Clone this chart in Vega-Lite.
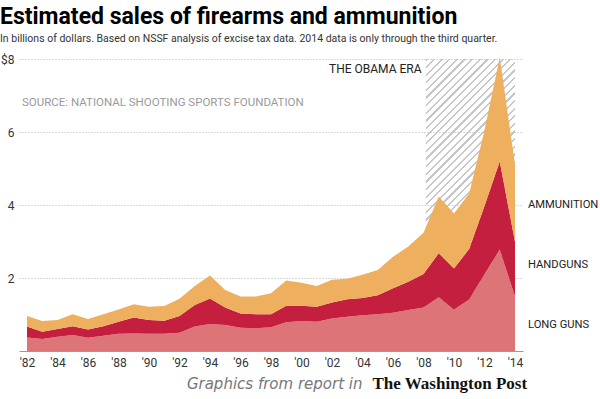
{
  "$schema": "https://vega.github.io/schema/vega-lite/v6.json",
  "width": 504,
  "height": 292,
  "autosize": {"type": "none"},
  "padding": {"left": 19, "top": 59, "right": 77, "bottom": 48},
  "background": "#ffffff",
  "title": {
    "text": "Estimated sales of firearms and ammunition",
    "subtitle": "In billions of dollars. Based on NSSF analysis of excise tax data. 2014 data is only through the third quarter.",
    "anchor": "start",
    "frame": "group",
    "dx": -19,
    "offset": 9,
    "font": "Roboto",
    "fontSize": 23,
    "fontWeight": "bold",
    "color": "#000000",
    "subtitleFont": "Roboto",
    "subtitleFontSize": 10.5,
    "subtitleColor": "#333333",
    "subtitlePadding": 5
  },
  "config": {
    "view": {"stroke": null},
    "axis": {"labelFont": "Roboto", "labelFontSize": 12, "labelColor": "#333333"}
  },
  "encoding": {
    "x": {"field": "year", "type": "quantitative", "title": null,
          "scale": {"domain": [1981.475, 2014.525], "nice": false, "zero": false},
          "axis": {"values": [1982,1984,1986,1988,1990,1992,1994,1996,1998,2000,2002,2004,2006,2008,2010,2012,2014],
                   "labelExpr": "\"'\" + substring(toString(datum.value), 2)",
                   "labelOverlap": false, "labelFlush": false, "labelSeparation": 0,
                   "grid": false, "ticks": false, "domainColor": "#9a9a9a", "labelPadding": 6}},
    "y": {"field": "value", "type": "quantitative", "title": null,
          "scale": {"domain": [0, 8], "nice": false},
          "axis": {"values": [2, 4, 6, 8],
                   "labelExpr": "datum.value == 8 ? '$8' : datum.label",
                   "domain": false, "ticks": false, "grid": true, "gridColor": "#b5b5b5", "gridDash": [1, 2],
                   "labelPadding": 5}}
  },
  "layer": [
    {
      "data": {"values": [{"year": 2008.15, "end": 2014, "value": 0, "hi": 8}]},
      "mark": {
        "type": "rect",
        "fill": {
          "gradient": "linear", "x1": 0, "y1": 0, "x2": 0.3648, "y2": 1.1941,
          "stops": [
{"offset":0,"color":"#c6c6c6"},{"offset":0.006,"color":"#c6c6c6"},{"offset":0.006,"color":"rgba(255,255,255,0)"},{"offset":0.02,"color":"rgba(255,255,255,0)"},
{"offset":0.02,"color":"#c6c6c6"},{"offset":0.026,"color":"#c6c6c6"},{"offset":0.026,"color":"rgba(255,255,255,0)"},{"offset":0.04,"color":"rgba(255,255,255,0)"},
{"offset":0.04,"color":"#c6c6c6"},{"offset":0.046,"color":"#c6c6c6"},{"offset":0.046,"color":"rgba(255,255,255,0)"},{"offset":0.06,"color":"rgba(255,255,255,0)"},
{"offset":0.06,"color":"#c6c6c6"},{"offset":0.066,"color":"#c6c6c6"},{"offset":0.066,"color":"rgba(255,255,255,0)"},{"offset":0.08,"color":"rgba(255,255,255,0)"},
{"offset":0.08,"color":"#c6c6c6"},{"offset":0.086,"color":"#c6c6c6"},{"offset":0.086,"color":"rgba(255,255,255,0)"},{"offset":0.1,"color":"rgba(255,255,255,0)"},
{"offset":0.1,"color":"#c6c6c6"},{"offset":0.106,"color":"#c6c6c6"},{"offset":0.106,"color":"rgba(255,255,255,0)"},{"offset":0.12,"color":"rgba(255,255,255,0)"},
{"offset":0.12,"color":"#c6c6c6"},{"offset":0.126,"color":"#c6c6c6"},{"offset":0.126,"color":"rgba(255,255,255,0)"},{"offset":0.14,"color":"rgba(255,255,255,0)"},
{"offset":0.14,"color":"#c6c6c6"},{"offset":0.146,"color":"#c6c6c6"},{"offset":0.146,"color":"rgba(255,255,255,0)"},{"offset":0.16,"color":"rgba(255,255,255,0)"},
{"offset":0.16,"color":"#c6c6c6"},{"offset":0.166,"color":"#c6c6c6"},{"offset":0.166,"color":"rgba(255,255,255,0)"},{"offset":0.18,"color":"rgba(255,255,255,0)"},
{"offset":0.18,"color":"#c6c6c6"},{"offset":0.186,"color":"#c6c6c6"},{"offset":0.186,"color":"rgba(255,255,255,0)"},{"offset":0.2,"color":"rgba(255,255,255,0)"},
{"offset":0.2,"color":"#c6c6c6"},{"offset":0.206,"color":"#c6c6c6"},{"offset":0.206,"color":"rgba(255,255,255,0)"},{"offset":0.22,"color":"rgba(255,255,255,0)"},
{"offset":0.22,"color":"#c6c6c6"},{"offset":0.226,"color":"#c6c6c6"},{"offset":0.226,"color":"rgba(255,255,255,0)"},{"offset":0.24,"color":"rgba(255,255,255,0)"},
{"offset":0.24,"color":"#c6c6c6"},{"offset":0.246,"color":"#c6c6c6"},{"offset":0.246,"color":"rgba(255,255,255,0)"},{"offset":0.26,"color":"rgba(255,255,255,0)"},
{"offset":0.26,"color":"#c6c6c6"},{"offset":0.266,"color":"#c6c6c6"},{"offset":0.266,"color":"rgba(255,255,255,0)"},{"offset":0.28,"color":"rgba(255,255,255,0)"},
{"offset":0.28,"color":"#c6c6c6"},{"offset":0.286,"color":"#c6c6c6"},{"offset":0.286,"color":"rgba(255,255,255,0)"},{"offset":0.3,"color":"rgba(255,255,255,0)"},
{"offset":0.3,"color":"#c6c6c6"},{"offset":0.306,"color":"#c6c6c6"},{"offset":0.306,"color":"rgba(255,255,255,0)"},{"offset":0.32,"color":"rgba(255,255,255,0)"},
{"offset":0.32,"color":"#c6c6c6"},{"offset":0.326,"color":"#c6c6c6"},{"offset":0.326,"color":"rgba(255,255,255,0)"},{"offset":0.34,"color":"rgba(255,255,255,0)"},
{"offset":0.34,"color":"#c6c6c6"},{"offset":0.346,"color":"#c6c6c6"},{"offset":0.346,"color":"rgba(255,255,255,0)"},{"offset":0.36,"color":"rgba(255,255,255,0)"},
{"offset":0.36,"color":"#c6c6c6"},{"offset":0.366,"color":"#c6c6c6"},{"offset":0.366,"color":"rgba(255,255,255,0)"},{"offset":0.38,"color":"rgba(255,255,255,0)"},
{"offset":0.38,"color":"#c6c6c6"},{"offset":0.386,"color":"#c6c6c6"},{"offset":0.386,"color":"rgba(255,255,255,0)"},{"offset":0.4,"color":"rgba(255,255,255,0)"},
{"offset":0.4,"color":"#c6c6c6"},{"offset":0.406,"color":"#c6c6c6"},{"offset":0.406,"color":"rgba(255,255,255,0)"},{"offset":0.42,"color":"rgba(255,255,255,0)"},
{"offset":0.42,"color":"#c6c6c6"},{"offset":0.426,"color":"#c6c6c6"},{"offset":0.426,"color":"rgba(255,255,255,0)"},{"offset":0.44,"color":"rgba(255,255,255,0)"},
{"offset":0.44,"color":"#c6c6c6"},{"offset":0.446,"color":"#c6c6c6"},{"offset":0.446,"color":"rgba(255,255,255,0)"},{"offset":0.46,"color":"rgba(255,255,255,0)"},
{"offset":0.46,"color":"#c6c6c6"},{"offset":0.466,"color":"#c6c6c6"},{"offset":0.466,"color":"rgba(255,255,255,0)"},{"offset":0.48,"color":"rgba(255,255,255,0)"},
{"offset":0.48,"color":"#c6c6c6"},{"offset":0.486,"color":"#c6c6c6"},{"offset":0.486,"color":"rgba(255,255,255,0)"},{"offset":0.5,"color":"rgba(255,255,255,0)"},
{"offset":0.5,"color":"#c6c6c6"},{"offset":0.506,"color":"#c6c6c6"},{"offset":0.506,"color":"rgba(255,255,255,0)"},{"offset":0.52,"color":"rgba(255,255,255,0)"},
{"offset":0.52,"color":"#c6c6c6"},{"offset":0.526,"color":"#c6c6c6"},{"offset":0.526,"color":"rgba(255,255,255,0)"},{"offset":0.54,"color":"rgba(255,255,255,0)"},
{"offset":0.54,"color":"#c6c6c6"},{"offset":0.546,"color":"#c6c6c6"},{"offset":0.546,"color":"rgba(255,255,255,0)"},{"offset":0.56,"color":"rgba(255,255,255,0)"},
{"offset":0.56,"color":"#c6c6c6"},{"offset":0.566,"color":"#c6c6c6"},{"offset":0.566,"color":"rgba(255,255,255,0)"},{"offset":0.58,"color":"rgba(255,255,255,0)"},
{"offset":0.58,"color":"#c6c6c6"},{"offset":0.586,"color":"#c6c6c6"},{"offset":0.586,"color":"rgba(255,255,255,0)"},{"offset":0.6,"color":"rgba(255,255,255,0)"},
{"offset":0.6,"color":"#c6c6c6"},{"offset":0.606,"color":"#c6c6c6"},{"offset":0.606,"color":"rgba(255,255,255,0)"},{"offset":0.62,"color":"rgba(255,255,255,0)"},
{"offset":0.62,"color":"#c6c6c6"},{"offset":0.626,"color":"#c6c6c6"},{"offset":0.626,"color":"rgba(255,255,255,0)"},{"offset":0.64,"color":"rgba(255,255,255,0)"},
{"offset":0.64,"color":"#c6c6c6"},{"offset":0.646,"color":"#c6c6c6"},{"offset":0.646,"color":"rgba(255,255,255,0)"},{"offset":0.66,"color":"rgba(255,255,255,0)"},
{"offset":0.66,"color":"#c6c6c6"},{"offset":0.666,"color":"#c6c6c6"},{"offset":0.666,"color":"rgba(255,255,255,0)"},{"offset":0.68,"color":"rgba(255,255,255,0)"},
{"offset":0.68,"color":"#c6c6c6"},{"offset":0.686,"color":"#c6c6c6"},{"offset":0.686,"color":"rgba(255,255,255,0)"},{"offset":0.7,"color":"rgba(255,255,255,0)"},
{"offset":0.7,"color":"#c6c6c6"},{"offset":0.706,"color":"#c6c6c6"},{"offset":0.706,"color":"rgba(255,255,255,0)"},{"offset":0.72,"color":"rgba(255,255,255,0)"},
{"offset":0.72,"color":"#c6c6c6"},{"offset":0.726,"color":"#c6c6c6"},{"offset":0.726,"color":"rgba(255,255,255,0)"},{"offset":0.74,"color":"rgba(255,255,255,0)"},
{"offset":0.74,"color":"#c6c6c6"},{"offset":0.746,"color":"#c6c6c6"},{"offset":0.746,"color":"rgba(255,255,255,0)"},{"offset":0.76,"color":"rgba(255,255,255,0)"},
{"offset":0.76,"color":"#c6c6c6"},{"offset":0.766,"color":"#c6c6c6"},{"offset":0.766,"color":"rgba(255,255,255,0)"},{"offset":0.78,"color":"rgba(255,255,255,0)"},
{"offset":0.78,"color":"#c6c6c6"},{"offset":0.786,"color":"#c6c6c6"},{"offset":0.786,"color":"rgba(255,255,255,0)"},{"offset":0.8,"color":"rgba(255,255,255,0)"},
{"offset":0.8,"color":"#c6c6c6"},{"offset":0.806,"color":"#c6c6c6"},{"offset":0.806,"color":"rgba(255,255,255,0)"},{"offset":0.82,"color":"rgba(255,255,255,0)"},
{"offset":0.82,"color":"#c6c6c6"},{"offset":0.826,"color":"#c6c6c6"},{"offset":0.826,"color":"rgba(255,255,255,0)"},{"offset":0.84,"color":"rgba(255,255,255,0)"},
{"offset":0.84,"color":"#c6c6c6"},{"offset":0.846,"color":"#c6c6c6"},{"offset":0.846,"color":"rgba(255,255,255,0)"},{"offset":0.86,"color":"rgba(255,255,255,0)"},
{"offset":0.86,"color":"#c6c6c6"},{"offset":0.866,"color":"#c6c6c6"},{"offset":0.866,"color":"rgba(255,255,255,0)"},{"offset":0.88,"color":"rgba(255,255,255,0)"},
{"offset":0.88,"color":"#c6c6c6"},{"offset":0.886,"color":"#c6c6c6"},{"offset":0.886,"color":"rgba(255,255,255,0)"},{"offset":0.9,"color":"rgba(255,255,255,0)"},
{"offset":0.9,"color":"#c6c6c6"},{"offset":0.906,"color":"#c6c6c6"},{"offset":0.906,"color":"rgba(255,255,255,0)"},{"offset":0.92,"color":"rgba(255,255,255,0)"},
{"offset":0.92,"color":"#c6c6c6"},{"offset":0.926,"color":"#c6c6c6"},{"offset":0.926,"color":"rgba(255,255,255,0)"},{"offset":0.94,"color":"rgba(255,255,255,0)"},
{"offset":0.94,"color":"#c6c6c6"},{"offset":0.946,"color":"#c6c6c6"},{"offset":0.946,"color":"rgba(255,255,255,0)"},{"offset":0.96,"color":"rgba(255,255,255,0)"},
{"offset":0.96,"color":"#c6c6c6"},{"offset":0.966,"color":"#c6c6c6"},{"offset":0.966,"color":"rgba(255,255,255,0)"},{"offset":0.98,"color":"rgba(255,255,255,0)"},
{"offset":0.98,"color":"#c6c6c6"},{"offset":0.986,"color":"#c6c6c6"},{"offset":0.986,"color":"rgba(255,255,255,0)"},{"offset":1,"color":"rgba(255,255,255,0)"}
          ]
        }
      },
      "encoding": {
        "x2": {"field": "end"},
        "y2": {"field": "hi"}
      }
    },
    {
      "data": {"values": [
        {"year":1982,"category":"Long guns","value":0.37},{"year":1982,"category":"Handguns","value":0.30},{"year":1982,"category":"Ammunition","value":0.29},
        {"year":1983,"category":"Long guns","value":0.33},{"year":1983,"category":"Handguns","value":0.20},{"year":1983,"category":"Ammunition","value":0.29},
        {"year":1984,"category":"Long guns","value":0.39},{"year":1984,"category":"Handguns","value":0.21},{"year":1984,"category":"Ammunition","value":0.25},
        {"year":1985,"category":"Long guns","value":0.44},{"year":1985,"category":"Handguns","value":0.24},{"year":1985,"category":"Ammunition","value":0.33},
        {"year":1986,"category":"Long guns","value":0.36},{"year":1986,"category":"Handguns","value":0.23},{"year":1986,"category":"Ammunition","value":0.29},
        {"year":1987,"category":"Long guns","value":0.42},{"year":1987,"category":"Handguns","value":0.26},{"year":1987,"category":"Ammunition","value":0.33},
        {"year":1988,"category":"Long guns","value":0.47},{"year":1988,"category":"Handguns","value":0.33},{"year":1988,"category":"Ammunition","value":0.34},
        {"year":1989,"category":"Long guns","value":0.48},{"year":1989,"category":"Handguns","value":0.44},{"year":1989,"category":"Ammunition","value":0.36},
        {"year":1990,"category":"Long guns","value":0.47},{"year":1990,"category":"Handguns","value":0.38},{"year":1990,"category":"Ammunition","value":0.36},
        {"year":1991,"category":"Long guns","value":0.47},{"year":1991,"category":"Handguns","value":0.36},{"year":1991,"category":"Ammunition","value":0.40},
        {"year":1992,"category":"Long guns","value":0.50},{"year":1992,"category":"Handguns","value":0.46},{"year":1992,"category":"Ammunition","value":0.47},
        {"year":1993,"category":"Long guns","value":0.67},{"year":1993,"category":"Handguns","value":0.59},{"year":1993,"category":"Ammunition","value":0.52},
        {"year":1994,"category":"Long guns","value":0.74},{"year":1994,"category":"Handguns","value":0.70},{"year":1994,"category":"Ammunition","value":0.63},
        {"year":1995,"category":"Long guns","value":0.71},{"year":1995,"category":"Handguns","value":0.48},{"year":1995,"category":"Ammunition","value":0.48},
        {"year":1996,"category":"Long guns","value":0.64},{"year":1996,"category":"Handguns","value":0.39},{"year":1996,"category":"Ammunition","value":0.46},
        {"year":1997,"category":"Long guns","value":0.62},{"year":1997,"category":"Handguns","value":0.39},{"year":1997,"category":"Ammunition","value":0.48},
        {"year":1998,"category":"Long guns","value":0.65},{"year":1998,"category":"Handguns","value":0.36},{"year":1998,"category":"Ammunition","value":0.57},
        {"year":1999,"category":"Long guns","value":0.79},{"year":1999,"category":"Handguns","value":0.45},{"year":1999,"category":"Ammunition","value":0.69},
        {"year":2000,"category":"Long guns","value":0.82},{"year":2000,"category":"Handguns","value":0.42},{"year":2000,"category":"Ammunition","value":0.63},
        {"year":2001,"category":"Long guns","value":0.80},{"year":2001,"category":"Handguns","value":0.41},{"year":2001,"category":"Ammunition","value":0.57},
        {"year":2002,"category":"Long guns","value":0.89},{"year":2002,"category":"Handguns","value":0.44},{"year":2002,"category":"Ammunition","value":0.62},
        {"year":2003,"category":"Long guns","value":0.94},{"year":2003,"category":"Handguns","value":0.48},{"year":2003,"category":"Ammunition","value":0.56},
        {"year":2004,"category":"Long guns","value":0.98},{"year":2004,"category":"Handguns","value":0.47},{"year":2004,"category":"Ammunition","value":0.64},
        {"year":2005,"category":"Long guns","value":1.01},{"year":2005,"category":"Handguns","value":0.52},{"year":2005,"category":"Ammunition","value":0.69},
        {"year":2006,"category":"Long guns","value":1.05},{"year":2006,"category":"Handguns","value":0.67},{"year":2006,"category":"Ammunition","value":0.86},
        {"year":2007,"category":"Long guns","value":1.12},{"year":2007,"category":"Handguns","value":0.78},{"year":2007,"category":"Ammunition","value":0.96},
        {"year":2008,"category":"Long guns","value":1.19},{"year":2008,"category":"Handguns","value":0.92},{"year":2008,"category":"Ammunition","value":1.13},
        {"year":2009,"category":"Long guns","value":1.47},{"year":2009,"category":"Handguns","value":1.21},{"year":2009,"category":"Ammunition","value":1.55},
        {"year":2010,"category":"Long guns","value":1.13},{"year":2010,"category":"Handguns","value":1.13},{"year":2010,"category":"Ammunition","value":1.51},
        {"year":2011,"category":"Long guns","value":1.42},{"year":2011,"category":"Handguns","value":1.38},{"year":2011,"category":"Ammunition","value":1.52},
        {"year":2012,"category":"Long guns","value":2.10},{"year":2012,"category":"Handguns","value":1.87},{"year":2012,"category":"Ammunition","value":2.08},
        {"year":2013,"category":"Long guns","value":2.78},{"year":2013,"category":"Handguns","value":2.41},{"year":2013,"category":"Ammunition","value":2.86},
        {"year":2014,"category":"Long guns","value":1.49},{"year":2014,"category":"Handguns","value":1.50},{"year":2014,"category":"Ammunition","value":2.11}
      ]},
      "mark": {"type": "area", "interpolate": "linear"},
      "encoding": {
        "color": {"field": "category", "type": "nominal", "legend": null,
                  "scale": {"domain": ["Ammunition", "Handguns", "Long guns"], "range": ["#EEB05F", "#C41F3E", "#DD7478"]}},
        "order": {"field": "category", "sort": "descending"}
      }
    },
    {
      "data": {"values": [
        {"year": 2014, "value": 4.0, "label": "AMMUNITION"},
        {"year": 2014, "value": 2.36, "label": "HANDGUNS"},
        {"year": 2014, "value": 0.71, "label": "LONG GUNS"}
      ]},
      "mark": {"type": "text", "align": "left", "baseline": "middle", "dx": 13, "font": "Roboto", "fontSize": 11.2, "color": "#222222"},
      "encoding": {"text": {"field": "label"}}
    },
    {
      "data": {"values": [{"year": 2008, "value": 7.73, "label": "THE OBAMA ERA"}]},
      "mark": {"type": "text", "align": "right", "baseline": "middle", "dx": -2, "font": "Roboto", "fontSize": 12, "color": "#222222"},
      "encoding": {"text": {"field": "label"}}
    },
    {
      "data": {"values": [{"year": 1982, "value": 6.79, "label": "SOURCE: NATIONAL SHOOTING SPORTS FOUNDATION"}]},
      "mark": {"type": "text", "align": "left", "baseline": "middle", "dx": -5, "font": "Roboto", "fontSize": 11.5, "color": "#9a9a9a"},
      "encoding": {"text": {"field": "label"}}
    },
    {
      "data": {"values": [{"year": 2004, "value": -0.9, "label": "Graphics from report in"}]},
      "mark": {"type": "text", "align": "right", "baseline": "middle", "font": "DejaVu Sans", "fontStyle": "oblique", "fontSize": 15, "color": "#777777"},
      "encoding": {"text": {"field": "label"}}
    },
    {
      "data": {"values": [{"year": 2004, "value": -0.9, "label": "The Washington Post"}]},
      "mark": {"type": "text", "align": "left", "baseline": "middle", "dx": 10, "font": "Liberation Serif", "fontWeight": "bold", "fontSize": 17, "color": "#111111"},
      "encoding": {"text": {"field": "label"}}
    }
  ]
}
